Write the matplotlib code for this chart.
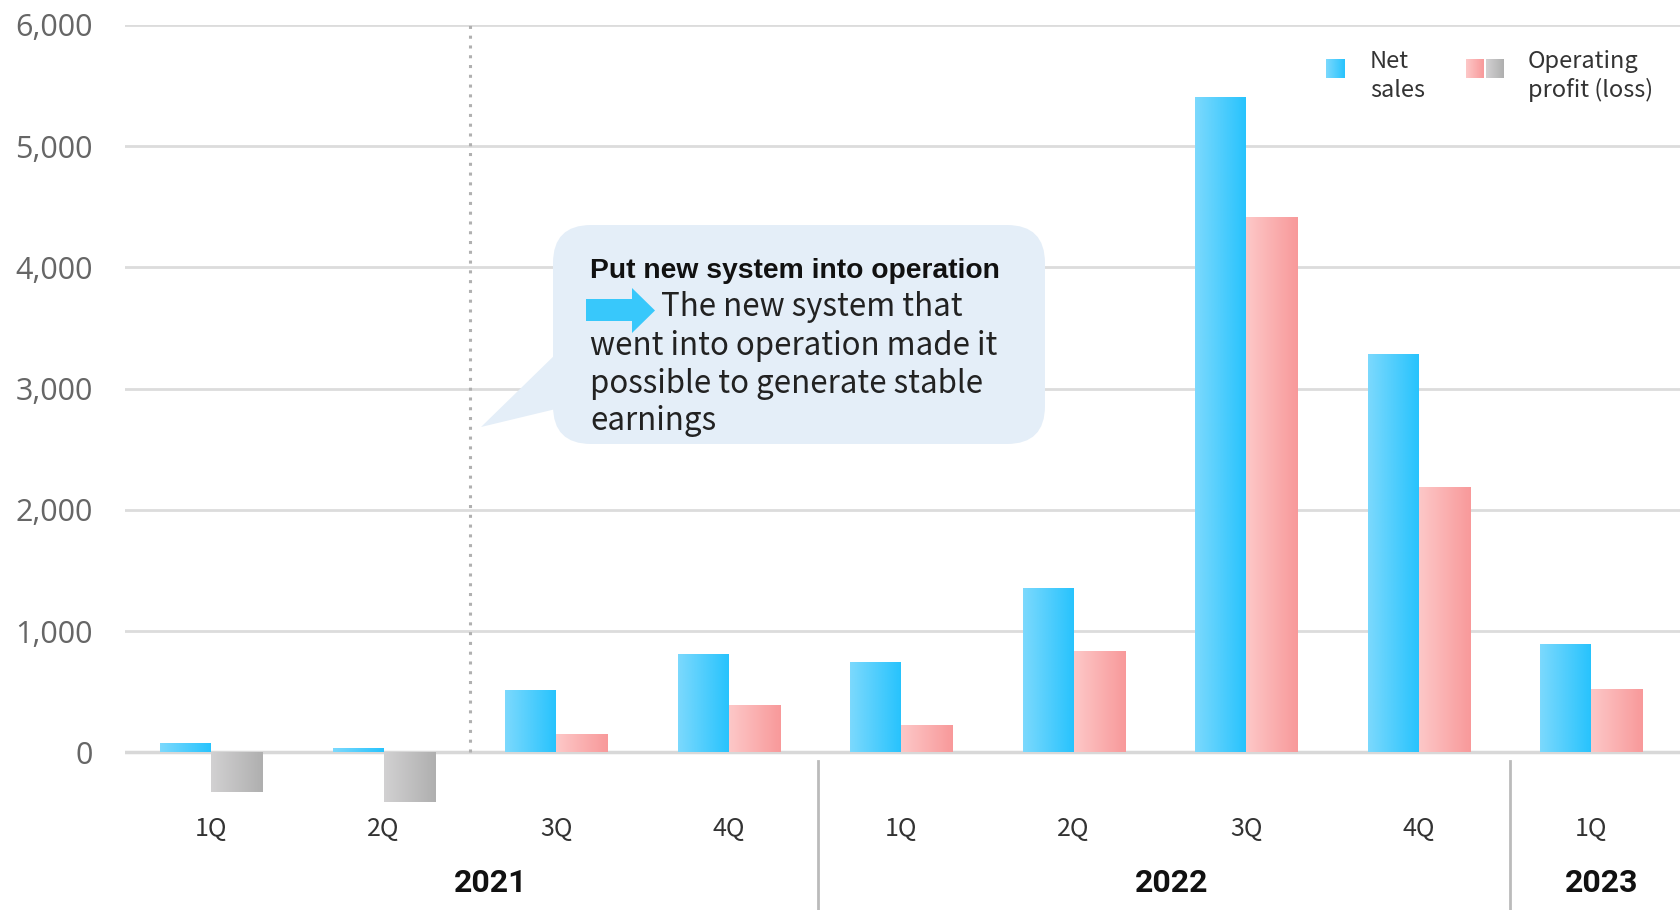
import matplotlib
matplotlib.use("Agg")
import matplotlib.pyplot as plt
import numpy as np
from matplotlib.colors import LinearSegmentedColormap
from matplotlib.patches import FancyBboxPatch, Polygon
from matplotlib.transforms import IdentityTransform
from matplotlib.ticker import FuncFormatter

# quarterly results (million yen)
quarters = ["1Q", "2Q", "3Q", "4Q", "1Q", "2Q", "3Q", "4Q", "1Q"]
years = ["2021", "2022", "2023"]
year_label_x = [1.62, 5.57, 8.06]
year_breaks = [3.52, 7.53]
net_sales = [68, 27, 505, 805, 735, 1350, 5395, 3275, 890]
operating_profit = [-327, -410, 145, 385, 220, 830, 4405, 2180, 515]
y_ticks = [0, 1000, 2000, 3000, 4000, 5000, 6000]

W, H = 1681, 910
fig = plt.figure(figsize=(W / 100, H / 100), dpi=100)
ax = fig.add_axes([124.7 / W, 1 - 807.7 / H, 1 - 124.7 / W, (807.7 - 25) / H])

blue_cmap = LinearSegmentedColormap.from_list("blue", ["#7CD9FD", "#27C3FD"])
pink_cmap = LinearSegmentedColormap.from_list("pink", ["#FDC8C8", "#F8999A"])
gray_cmap = LinearSegmentedColormap.from_list("gray", ["#D2D1D2", "#AFAFAF"])
grad = np.linspace(0, 1, 256).reshape(1, -1)

x = np.arange(len(quarters))
w_net, w_op = 0.295, 0.30


def gradient_bar(x0, x1, v, cmap):
    y0, y1 = (0, v) if v >= 0 else (v, 0)
    ax.imshow(grad, extent=[x0, x1, y0, y1], aspect="auto", cmap=cmap,
              interpolation="bilinear", zorder=3)


for i, (ns, op) in enumerate(zip(net_sales, operating_profit)):
    gradient_bar(x[i] - w_net, x[i], ns, blue_cmap)
    gradient_bar(x[i], x[i] + w_op, op, pink_cmap if op >= 0 else gray_cmap)

ax.set_xlim(-0.5, 8.52)
ax.set_ylim(-456, 6000)
ax.set_yticks(y_ticks)
ax.yaxis.set_major_formatter(FuncFormatter(lambda v, _: f"{v:,.0f}"))
ax.tick_params(axis="y", length=0, pad=23, labelsize=22, labelcolor="#666666")
for lab in ax.get_yticklabels():
    lab.set_fontfamily("Open Sans")
ax.set_xticks([])
for s in ax.spines.values():
    s.set_visible(False)
ax.grid(axis="y", color="#DCDCDC", linewidth=2)
ax.set_axisbelow(True)
ax.axhline(0, color="#D8D8D8", linewidth=2.5, zorder=2)

# system launch marker
ax.plot([1.5, 1.5], [0, 6000], color="#B0B0B0", linestyle=(0, (1, 2.2)),
        linewidth=2.2, zorder=2)

# category labels under the axis
for i, q in enumerate(quarters):
    ax.text(x[i], -630, q, ha="center", va="center", fontsize=18,
            color="#333333", family="Noto Sans CJK JP", clip_on=False)
for xb in year_breaks:
    ax.plot([xb, xb], [-70, -1300], color="#BBBBBB", linewidth=2, clip_on=False)
for xl, yr in zip(year_label_x, years):
    ax.text(xl, -1075, yr, ha="center", va="center", fontsize=23,
            fontweight="bold", color="#111111", family="Roboto", clip_on=False)

# callout, drawn in pixel space (y measured from the top)
px = IdentityTransform()


def P(xp, yp):
    return (xp, H - yp)


box_color = "#E4EEF8"
box = FancyBboxPatch(P(553, 444), 492, 219, boxstyle="round,pad=0,rounding_size=38",
                     transform=px, facecolor=box_color, edgecolor="none", zorder=5)
fig.patches.append(box)
tail = Polygon([P(560, 350), P(481, 427), P(560, 408)], closed=True, transform=px,
               facecolor=box_color, edgecolor="none", zorder=5)
fig.patches.append(tail)
arrow = Polygon([P(586, 299), P(632, 299), P(632, 288), P(655, 310.5),
                 P(632, 333), P(632, 321), P(586, 321)], closed=True, transform=px,
                facecolor="#38C8FB", edgecolor="none", zorder=6)
fig.patches.append(arrow)

fig.text(590 / W, 1 - 271 / H, "Put new system into operation", fontsize=20.3,
         fontweight="bold", family="Liberation Sans", color="#111111", va="center",
         zorder=7)
fig.text(661 / W, 1 - 307 / H, "The new system that", fontsize=22.5,
         family="Noto Sans CJK JP", color="#222222", va="center", zorder=7)
for yp, line in zip([346, 384, 421], ["went into operation made it",
                                       "possible to generate stable",
                                       "earnings"]):
    fig.text(590 / W, 1 - yp / H, line, fontsize=22.5, family="Noto Sans CJK JP",
             color="#222222", va="center", zorder=7)

# legend with gradient swatches
def swatch(x0, y0, w, h, cmap):
    sax = fig.add_axes([x0 / W, 1 - (y0 + h) / H, w / W, h / H])
    sax.imshow(grad, aspect="auto", cmap=cmap, interpolation="bilinear")
    sax.axis("off")


swatch(1326, 59, 19, 19, blue_cmap)
swatch(1466, 59, 18, 19, pink_cmap)
swatch(1486, 59, 18, 19, gray_cmap)
fig.text(1370 / W, 1 - 76 / H, "Net\nsales", fontsize=17, family="Noto Sans CJK JP",
         color="#333333", va="center", linespacing=1.3)
fig.text(1528 / W, 1 - 76 / H, "Operating\nprofit (loss)", fontsize=17,
         family="Noto Sans CJK JP", color="#333333", va="center", linespacing=1.3)

fig.savefig("out.png", dpi=100)
